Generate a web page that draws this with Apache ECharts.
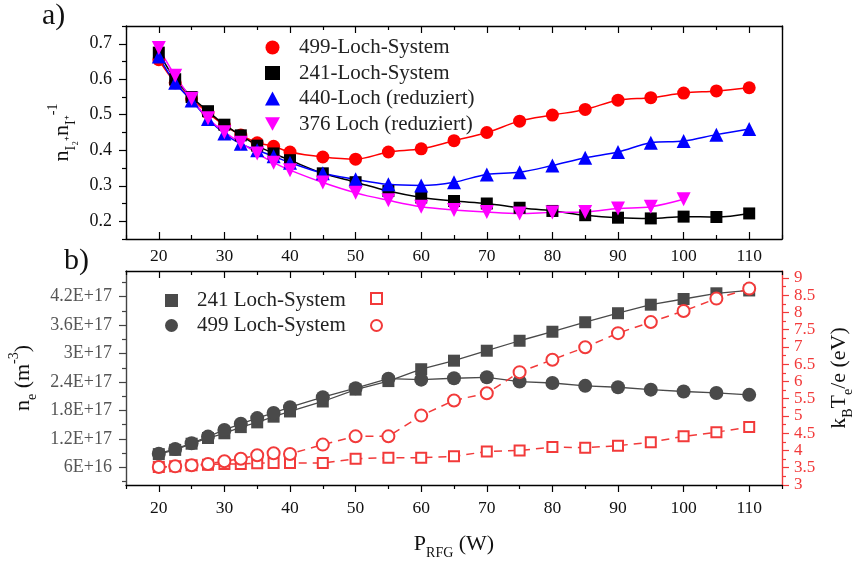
<!DOCTYPE html>
<html>
<head>
<meta charset="utf-8">
<script src="https://cdn.jsdelivr.net/npm/echarts@6.0.0/dist/echarts.min.js"></script>
<style>
html,body{margin:0;padding:0;background:#fff;}
#chart{width:857px;height:563px;}
</style>
</head>
<body>
<div id="chart"></div>
<script>
// ---- data ----
const powerW = [20,22.5,25,27.5,30,32.5,35,37.5,40,45,50,55,60,65,70,75,80,85,90,95,100,105,110];
const powerW376 = [20,22.5,25,27.5,30,32.5,35,37.5,40,45,50,55,60,65,70,75,80,85,90,95,100];

const ratio499 = [0.655,0.59,0.545,0.505,0.47,0.443,0.421,0.411,0.395,0.381,0.375,0.395,0.404,0.427,0.45,0.482,0.499,0.515,0.541,0.548,0.561,0.567,0.576];
const ratio241 = [0.675,0.60,0.55,0.51,0.472,0.442,0.413,0.391,0.372,0.335,0.31,0.285,0.267,0.257,0.25,0.238,0.229,0.217,0.21,0.208,0.213,0.212,0.222];
const ratio440 = [0.664,0.59,0.54,0.488,0.447,0.418,0.40,0.383,0.365,0.335,0.318,0.304,0.301,0.31,0.332,0.338,0.357,0.379,0.395,0.421,0.426,0.444,0.46];
const ratio376 = [0.688,0.61,0.545,0.49,0.451,0.421,0.391,0.365,0.344,0.309,0.28,0.259,0.241,0.232,0.226,0.222,0.225,0.226,0.236,0.241,0.262];

const ne241 = [8.8e16,9.7e16,1.10e17,1.22e17,1.32e17,1.45e17,1.55e17,1.67e17,1.78e17,1.99e17,2.24e17,2.42e17,2.67e17,2.85e17,3.06e17,3.27e17,3.46e17,3.66e17,3.85e17,4.03e17,4.15e17,4.27e17,4.33e17];
const ne499 = [8.9e16,9.9e16,1.11e17,1.25e17,1.39e17,1.52e17,1.64e17,1.75e17,1.87e17,2.08e17,2.27e17,2.47e17,2.45e17,2.48e17,2.50e17,2.41e17,2.38e17,2.32e17,2.29e17,2.24e17,2.20e17,2.17e17,2.13e17];
const te241 = [3.52,3.54,3.57,3.59,3.61,3.61,3.63,3.64,3.64,3.64,3.76,3.79,3.79,3.83,3.97,4.0,4.10,4.08,4.14,4.24,4.41,4.53,4.68];
const te499 = [3.52,3.54,3.57,3.61,3.69,3.76,3.86,3.92,3.90,4.17,4.41,4.41,5.01,5.45,5.66,6.27,6.63,6.99,7.40,7.72,8.04,8.40,8.69];

// ---- ticks ----
const xMajor = [20,30,40,50,60,70,80,90,100,110];
const xMinor = [15,25,35,45,55,65,75,85,95,105,115];
const ratioMajor = [0.2,0.3,0.4,0.5,0.6,0.7];
const ratioMinor = [0.15,0.25,0.35,0.45,0.55,0.65,0.75];
const neMajor = [6e16,1.2e17,1.8e17,2.4e17,3e17,3.6e17,4.2e17];
const neMinor = [3e16,9e16,1.5e17,2.1e17,2.7e17,3.3e17,3.9e17,4.5e17];
const teMajor = [3,3.5,4,4.5,5,5.5,6,6.5,7,7.5,8,8.5,9];
const teMinor = [3.25,3.75,4.25,4.75,5.25,5.75,6.25,6.75,7.25,7.75,8.25,8.75];

const FONT = 'Liberation Serif';
const RED = '#f23a3a';
const GRAY = '#4a4a4a';

function pairs(xs, ys){ return ys.map((v,i)=>[xs[i], v]); }
function sci(v){
  const e = Math.floor(Math.log10(v) + 1e-9);
  const m = Math.round(v / Math.pow(10, e) * 10) / 10;
  return m + 'E+' + e;
}

function xAx(grid, pos, inside, vals, len, line, label, extra){
  return Object.assign({
    type:'value', gridIndex:grid, position:pos, min:15, max:115,
    axisLine:{show:line, onZero:false, lineStyle:{color:'#000', width:1.4}},
    axisTick:{show:true, inside:inside, length:len, customValues:vals, lineStyle:{color:'#000', width:1.2}},
    axisLabel:label ? {show:true, customValues:vals, fontFamily:FONT, fontSize:17.5, color:'#111', margin:label} : {show:false},
    splitLine:{show:false}
  }, extra || {});
}
function yAx(grid, pos, min, max, inside, vals, len, line, color, label, extra){
  return Object.assign({
    type:'value', gridIndex:grid, position:pos, min:min, max:max,
    axisLine:{show:line, onZero:false, lineStyle:{color:color, width:1.4}},
    axisTick:{show:vals !== null, inside:inside, length:len, customValues:vals || [], lineStyle:{color:color, width:1.2}},
    axisLabel:label ? Object.assign({show:true, customValues:vals, fontFamily:FONT, fontSize:18, margin:14}, label) : {show:false},
    splitLine:{show:false}
  }, extra || {});
}

const nameRich = {
  b:{fontFamily:FONT, fontSize:22, color:'#111', verticalAlign:'middle'},
  sub:{fontFamily:FONT, fontSize:14, color:'#111', verticalAlign:'bottom', padding:[0,0,-5,0]},
  sup:{fontFamily:FONT, fontSize:14, color:'#111', verticalAlign:'top', padding:[-5,0,0,0]}
};

const option = {
  animation:false,
  backgroundColor:'#fff',
  textStyle:{fontFamily:FONT},
  grid:[
    {left:126, top:26, width:656, height:213, outerBoundsMode:'none', containLabel:false},
    {left:126, top:271, width:656, height:214, outerBoundsMode:'none', containLabel:false}
  ],
  graphic:[
    {type:'text', left:42, top:1, style:{text:'a)', font:'30px "Liberation Serif"', fill:'#111'}},
    {type:'text', left:64, top:246, style:{text:'b)', font:'30px "Liberation Serif"', fill:'#111'}}
  ],
  legend:[
    {
      left:260, top:32, orient:'vertical', itemWidth:15, itemHeight:14, itemGap:4.5,
      textStyle:{fontFamily:FONT, fontSize:21, color:'#222', padding:[0,0,0,14]},
      data:[
        {name:'499-Loch-System', icon:'circle'},
        {name:'241-Loch-System', icon:'rect'},
        {name:'440-Loch (reduziert)', icon:'triangle'},
        {name:'376 Loch (reduziert)', icon:'path://M0,0 L10,0 L5,9 Z'}
      ]
    },
    {
      left:160, top:285, orient:'vertical', itemWidth:13, itemHeight:13, itemGap:4,
      textStyle:{fontFamily:FONT, fontSize:21, color:'#222', padding:[0,0,0,14]},
      data:[
        {name:'241 Loch-System', icon:'rect'},
        {name:'499 Loch-System', icon:'circle'}
      ]
    },
    {
      left:365, top:287, orient:'vertical', itemWidth:11, itemHeight:11, itemGap:14,
      formatter:function(){ return ''; },
      data:[
        {name:'Te 241', icon:'emptyRect'},
        {name:'Te 499', icon:'emptyCircle'}
      ]
    }
  ],
  xAxis:[
    xAx(0,'bottom',true,xMajor,7,true,0),
    xAx(0,'bottom',true,xMinor,4,false,0),
    xAx(0,'top',true,xMajor,7,true,0),
    xAx(0,'top',true,xMinor,4,false,0),
    xAx(1,'bottom',false,xMajor,7,true,14,{
      name:'{b|P}{sub|RFG}{b| (W)}', nameLocation:'middle', nameGap:48,
      nameTextStyle:{rich:nameRich}
    }),
    xAx(1,'bottom',false,xMinor,4,false,0),
    xAx(1,'top',true,xMajor,7,true,6),
    xAx(1,'top',true,xMinor,4,false,0)
  ],
  yAxis:[
    yAx(0,'left',0.15,0.75,false,ratioMajor,7,true,'#000',{color:'#111', formatter:function(v){return v.toFixed(1);}},{
      name:'{b|n}{sub|I₂⁺}{b|n}{sub|I⁺}{sup|-1}', nameLocation:'middle', nameGap:53,
      nameTextStyle:{rich:nameRich}
    }),
    yAx(0,'left',0.15,0.75,false,ratioMinor,4,false,'#000',null),
    yAx(0,'right',0.15,0.75,false,null,0,true,'#000',null),
    yAx(1,'left',2.3e16,4.74e17,false,neMajor,7,true,'#444',{color:'#555', formatter:sci},{
      name:'{b|n}{sub|e}{b| (m}{sup|-3}{b|)}', nameLocation:'middle', nameGap:74,
      nameTextStyle:{rich:nameRich}
    }),
    yAx(1,'left',2.3e16,4.74e17,false,neMinor,4,false,'#444',null),
    yAx(1,'right',3,9.2,false,teMajor,7,true,RED,{color:RED, margin:12, fontSize:17},{
      name:'{b|k}{sub|B}{b|T}{sub|e}{b|/e (eV)}', nameLocation:'middle', nameGap:46,
      nameRotate:90,
      nameTextStyle:{rich:nameRich}
    }),
    yAx(1,'right',3,9.2,false,teMinor,4,false,RED,null)
  ],
  series:[
    {name:'499-Loch-System', type:'line', xAxisIndex:0, yAxisIndex:0, data:pairs(powerW, ratio499),
      smooth:0.35, symbol:'circle', symbolSize:13, itemStyle:{color:'#ff0000'}, lineStyle:{color:'#ff0000', width:1.5}},
    {name:'241-Loch-System', type:'line', xAxisIndex:0, yAxisIndex:0, data:pairs(powerW, ratio241),
      smooth:0.35, symbol:'rect', symbolSize:12, itemStyle:{color:'#000'}, lineStyle:{color:'#000', width:1.5}},
    {name:'440-Loch (reduziert)', type:'line', xAxisIndex:0, yAxisIndex:0, data:pairs(powerW, ratio440),
      smooth:0.35, symbol:'triangle', symbolSize:14, itemStyle:{color:'#0000ff'}, lineStyle:{color:'#0000ff', width:1.5}},
    {name:'376 Loch (reduziert)', type:'line', xAxisIndex:0, yAxisIndex:0, data:pairs(powerW376, ratio376),
      smooth:0.35, symbol:'path://M0,0 L10,0 L5,9 Z', symbolSize:14, itemStyle:{color:'#ff00ff'}, lineStyle:{color:'#ff00ff', width:1.5}},

    {name:'241 Loch-System', type:'line', xAxisIndex:4, yAxisIndex:3, data:pairs(powerW, ne241),
      symbol:'rect', symbolSize:12, itemStyle:{color:GRAY}, lineStyle:{color:GRAY, width:1.3}},
    {name:'499 Loch-System', type:'line', xAxisIndex:4, yAxisIndex:3, data:pairs(powerW, ne499),
      symbol:'circle', symbolSize:14, itemStyle:{color:GRAY}, lineStyle:{color:GRAY, width:1.3}},
    {name:'Te 241', type:'line', xAxisIndex:4, yAxisIndex:5, data:pairs(powerW, te241),
      symbol:'emptyRect', symbolSize:10, itemStyle:{color:RED, borderWidth:1.6},
      lineStyle:{color:RED, width:1.5, type:[8,6]}},
    {name:'Te 499', type:'line', xAxisIndex:4, yAxisIndex:5, data:pairs(powerW, te499),
      symbol:'emptyCircle', symbolSize:12, itemStyle:{color:RED, borderWidth:1.6},
      lineStyle:{color:RED, width:1.5, type:[8,6]}}
  ]
};

const chart = echarts.init(document.getElementById('chart'), null, {renderer:'canvas'});
chart.setOption(option);
</script>
</body>
</html>
